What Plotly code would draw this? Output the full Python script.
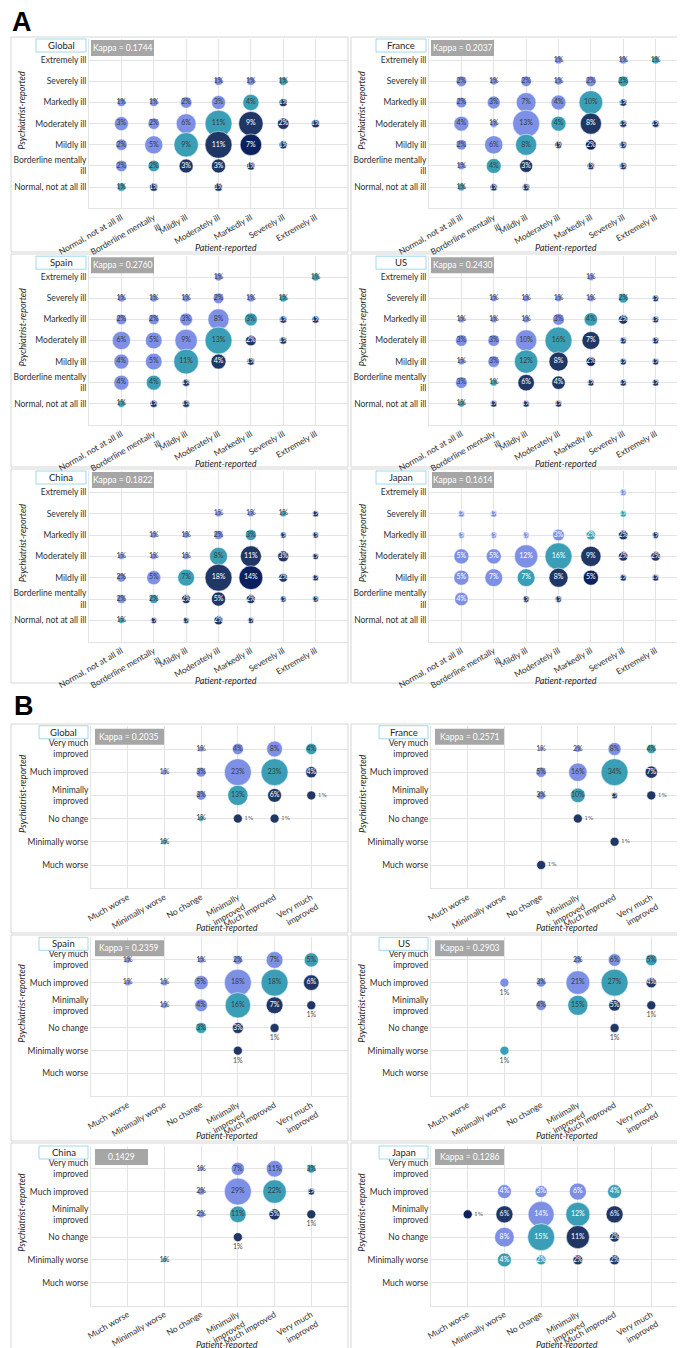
import plotly.graph_objects as go

W, H = 685, 1348

# ---------------- categories ----------------
SEVERITY = ["Normal, not at all ill", "Borderline mentally<br>ill", "Mildly ill",
            "Moderately ill", "Markedly ill", "Severely ill", "Extremely ill"]
IMPROVEMENT = ["Much worse", "Minimally worse", "No change", "Minimally<br>improved",
               "Much improved", "Very much<br>improved"]
COUNTRIES = ["Global", "France", "Spain", "US", "China", "Japan"]

# ---------------- data: rows = psychiatrist-reported (top = most severe / most improved),
# columns = patient-reported (left = least severe / much worse); values in % ----------------
A_GLOBAL = [
    [None, None, None, None, None, None, None],
    [None, None, None, 1, 1, 1, None],
    [1, 1, 2, 3, 4, 1, None],
    [3, 2, 6, 11, 9, 2, 1],
    [2, 5, 9, 11, 7, 1, None],
    [2, 2, 3, 3, 1, None, None],
    [1, 1, None, 1, None, None, None],
]
A_FRANCE = [
    [None, None, None, 1, None, 1, 1],
    [2, 1, 2, 1, 2, 2, None],
    [2, 3, 7, 4, 10, 1, None],
    [4, 1, 13, 4, 8, 1, 1],
    [2, 6, 8, 1, 2, 1, None],
    [1, 4, 3, None, 1, 1, None],
    [1, 1, 1, None, None, None, None],
]
A_SPAIN = [
    [None, None, None, 1, None, None, 1],
    [1, 1, 1, 2, 1, 1, None],
    [2, 2, 3, 8, 3, 1, 1],
    [6, 5, 9, 13, 2, 1, None],
    [4, 5, 11, 4, 1, None, None],
    [4, 4, 1, None, None, None, None],
    [1, 1, 1, None, None, None, None],
]
A_US = [
    [None, None, None, None, 1, None, None],
    [None, 1, 1, 1, 1, 2, 1],
    [1, 1, 1, 3, 4, 2, 1],
    [3, 3, 10, 16, 7, 1, 1],
    [1, 3, 12, 8, 2, 1, 1],
    [3, 1, 6, 4, 1, 1, 1],
    [1, 1, 1, 1, None, None, None],
]
A_CHINA = [
    [None, None, None, None, None, None, None],
    [None, None, None, 1, 1, 1, 1],
    [None, 1, 1, 2, 3, 1, 1],
    [1, 1, 1, 8, 11, 3, 1],
    [2, 5, 7, 18, 14, 2, 1],
    [2, 2, 2, 5, 2, 1, 1],
    [1, 1, 1, 2, 1, None, None],
]
A_JAPAN = [
    [None, None, None, None, None, 1, None],
    [1, 1, None, None, None, 1, None],
    [1, 1, 1, 3, 2, 2, 1],
    [5, 5, 12, 16, 9, 2, 2],
    [5, 7, 7, 8, 5, 1, 1],
    [4, None, 1, 1, None, None, None],
    [None, None, None, None, None, None, None],
]

B_GLOBAL = [
    [None, None, 1, 4, 8, 4],
    [None, 1, 3, 23, 23, 4],
    [None, None, 3, 13, 6, 1],
    [None, None, 1, 1, 1, None],
    [None, 1, None, None, None, None],
    [None, None, None, None, None, None],
]
B_FRANCE = [
    [None, None, 1, 2, 8, 4],
    [None, None, 5, 16, 34, 7],
    [None, None, 3, 10, 2, 1],
    [None, None, None, 1, None, None],
    [None, None, None, None, 1, None],
    [None, None, 1, None, None, None],
]
B_SPAIN = [
    [1, None, 1, 2, 7, 5],
    [1, 1, 5, 18, 18, 6],
    [None, 1, 4, 16, 7, 1],
    [None, None, 3, 3, 1, None],
    [None, None, None, 1, None, None],
    [None, None, None, None, None, None],
]
B_US = [
    [None, None, None, 2, 6, 5],
    [None, 1, 3, 21, 27, 4],
    [None, None, 4, 15, 5, 1],
    [None, None, None, None, 1, None],
    [None, 1, None, None, None, None],
    [None, None, None, None, None, None],
]
B_CHINA = [
    [None, None, 1, 7, 11, 3],
    [None, None, 2, 29, 22, 2],
    [None, None, 2, 11, 5, 1],
    [None, None, None, 1, None, None],
    [None, 1, None, None, None, None],
    [None, None, None, None, None, None],
]
B_JAPAN = [
    [None, None, None, None, None, None],
    [None, 4, 3, 6, 4, None],
    [1, 6, 14, 12, 6, None],
    [None, 8, 15, 11, 2, None],
    [None, 4, 2, 2, 2, None],
    [None, None, None, None, None, None],
]

KAPPA_A = ["Kappa = 0.1744", "Kappa = 0.2037", "Kappa = 0.2760",
           "Kappa = 0.2430", "Kappa = 0.1822", "Kappa = 0.1614"]
KAPPA_B = ["Kappa = 0.2035", "Kappa = 0.2571", "Kappa = 0.2359",
           "Kappa = 0.2903", "0.1429", "Kappa = 0.1286"]

# ---------------- styling ----------------
PERI, TEAL, NAVY, DARK = "#7d90e6", "#3a9fb6", "#203766", "#0c1f5e"
GRID = "#e4e4e4"
FRAME = "#d6d6d6"
TXT = "#2e2e2e"
FONT = "Lato"

# colour overrides (psych level, patient level) -> colour
OVERRIDES = {
    ("A", "Global"): {(3, 5): DARK},
    ("A", "France"): {(3, 5): DARK},
    ("A", "US"): {(3, 5): DARK},
    ("A", "China"): {(3, 5): DARK},
    ("A", "Japan"): {(3, 5): DARK},
    ("B", "Japan"): {(4, 1): DARK, (4, 2): NAVY, (2, 3): TEAL},
}
# small dots with the label drawn outside
OUTSIDE = {
    ("B", "Global"): ("right", [(4, 6), (3, 4), (3, 5)]),
    ("B", "France"): ("right", [(4, 6), (3, 4), (2, 5), (1, 3)]),
    ("B", "Spain"): ("below", [(4, 6), (3, 5), (2, 4)]),
    ("B", "US"): ("below", [(5, 2), (4, 6), (3, 5), (2, 2)]),
    ("B", "China"): ("below", [(4, 6), (3, 4)]),
    ("B", "Japan"): ("right", [(4, 1)]),
}
WHITE_TEXT = {("A", "Japan"), ("B", "Japan")}

A_ROWS = [(31, 200.3), (248.2, 416.8), (463, 633.7)]
B_ROWS = [(717.8, 880.2), (929.3, 1088), (1138, 1297.5)]
A_FRAMES = [(29, 244), (246, 459), (461, 675)]
B_FRAMES = [(716, 925), (927, 1133), (1135, 1345)]
MAXD = 27


def fx(p):
    return p / W


def fy(p):
    return 1 - p / H


PANELS = []
for sec, mats, kap in (("A", [A_GLOBAL, A_FRANCE, A_SPAIN, A_US, A_CHINA, A_JAPAN], KAPPA_A),
                       ("B", [B_GLOBAL, B_FRANCE, B_SPAIN, B_US, B_CHINA, B_JAPAN], KAPPA_B)):
    for i, (name, mat, k) in enumerate(zip(COUNTRIES, mats, kap)):
        PANELS.append((sec, i // 2, i % 2, name, k, mat))

fig = go.Figure()
layout = dict(width=W, height=H, margin=dict(l=0, r=0, t=0, b=0),
              paper_bgcolor="white", plot_bgcolor="white", showlegend=False,
              font=dict(family=FONT, color=TXT))
shapes, annots = [], []

for idx, (sec, row, col, name, kappa, mat) in enumerate(PANELS, start=1):
    n = len(mat)
    cats = SEVERITY if sec == "A" else IMPROVEMENT
    top, bot = (A_ROWS if sec == "A" else B_ROWS)[row]
    ftop, fbot = (A_FRAMES if sec == "A" else B_FRAMES)[row]
    x0 = (81 if sec == "A" else 83) + 340 * col
    x1 = 340 + 340 * col
    key = (sec, name)
    over = OVERRIDES.get(key, {})
    out_side, out_cells = OUTSIDE.get(key, (None, []))
    vmax = max(v for r in mat for v in r if v is not None)
    sizeref = 2.0 * vmax / (MAXD ** 2)

    xs, ys, vs, cs, tcs, txt = [], [], [], [], [], []
    oxs, oys, ovs, ocs = [], [], [], []
    for ri, r in enumerate(mat):
        psy = n - ri
        for ci, v in enumerate(r):
            if v is None:
                continue
            pat = ci + 1
            if (psy, pat) in over:
                c = over[(psy, pat)]
            elif psy > pat:
                c = PERI
            elif psy == pat:
                c = TEAL
            else:
                c = NAVY
            if (psy, pat) in out_cells:
                oxs.append(pat); oys.append(psy); ovs.append(v); ocs.append(c)
            else:
                xs.append(pat); ys.append(psy); vs.append(v); cs.append(c)
                txt.append(f"{v}%")
                tcs.append("white" if (c in (NAVY, DARK) or key in WHITE_TEXT) else "#3a3a3a")

    xa, ya = f"x{idx}", f"y{idx}"
    fig.add_trace(go.Scatter(
        x=xs, y=ys, mode="markers+text", text=txt, textposition="middle center",
        textfont=dict(size=7, color=tcs, family=FONT),
        marker=dict(size=vs, sizemode="area", sizeref=sizeref, color=cs, opacity=1,
                    line=dict(color="rgba(255,255,255,0.7)", width=0.8)),
        xaxis=xa, yaxis=ya, hoverinfo="skip", cliponaxis=False))
    if oxs:
        fig.add_trace(go.Scatter(
            x=oxs, y=oys, mode="markers+text", text=[f"{v}%" for v in ovs],
            textposition="middle right" if out_side == "right" else "bottom center",
            textfont=dict(size=5.5 if out_side == "right" else 7, color="#505050",
                          family="DejaVu Serif" if out_side == "right" else FONT),
            marker=dict(size=ovs, sizemode="area", sizeref=sizeref, color=ocs, sizemin=4.5,
                        opacity=1, line=dict(color="rgba(255,255,255,0.7)", width=0.8)),
            xaxis=xa, yaxis=ya, hoverinfo="skip", cliponaxis=False))

    axsuffix = "" if idx == 1 else str(idx)
    layout["xaxis" + axsuffix] = dict(
        domain=[fx(x0), fx(x1)], range=[0, n + 1],
        tickvals=list(range(1, n + 1)), ticktext=cats, tickangle=-30,
        tickfont=dict(size=8.5, color=TXT, family=FONT),
        showgrid=True, gridcolor=GRID, gridwidth=1, zeroline=False,
        showline=True, linecolor=GRID, linewidth=1, ticks="", anchor=ya,
        fixedrange=True, automargin=False)
    layout["yaxis" + axsuffix] = dict(
        domain=[fy(bot), fy(top)], range=[0, n + 1],
        tickvals=list(range(1, n + 1)), ticktext=cats,
        tickfont=dict(size=8.5, color=TXT, family=FONT),
        showgrid=True, gridcolor=GRID, gridwidth=1, zeroline=False,
        showline=True, linecolor=GRID, linewidth=1, ticks="", anchor=xa,
        fixedrange=True, automargin=False)

    # chart frame
    shapes.append(dict(type="rect", xref="paper", yref="paper",
                       x0=fx(3 if col == 0 else 343), x1=fx(340 if col == 0 else 683),
                       y0=fy(fbot), y1=fy(ftop), line=dict(color=FRAME, width=1), layer="below"))
    # country title box
    tb = (28, 78) if sec == "A" else (31, 80)
    shapes.append(dict(type="rect", xref="paper", yref="paper",
                       x0=fx(tb[0] + 340 * col), x1=fx(tb[1] + 340 * col),
                       y0=fy(top + 13), y1=fy(top), fillcolor="white",
                       line=dict(color="#9fd8ee", width=1)))
    annots.append(dict(xref="paper", yref="paper", x=fx((tb[0] + tb[1]) / 2 + 340 * col),
                       y=fy(top + 6.5), text=name, showarrow=False,
                       font=dict(size=9.5, color="#262626", family=FONT),
                       xanchor="center", yanchor="middle"))
    # kappa box
    if sec == "A":
        kb = (83 + (1 if row == 2 else 0), 146, top + 1, top + 17)
    else:
        kb = (87, 156 if kappa.startswith("Kappa") else 140, top + 3, top + 19)
    shapes.append(dict(type="rect", xref="paper", yref="paper",
                       x0=fx(kb[0] + 340 * col), x1=fx(kb[1] + 340 * col),
                       y0=fy(kb[3]), y1=fy(kb[2]), fillcolor="#a6a6a6",
                       line=dict(color="#a6a6a6", width=0)))
    annots.append(dict(xref="paper", yref="paper", x=fx((kb[0] + kb[1]) / 2 + 340 * col),
                       y=fy((kb[2] + kb[3]) / 2), text=kappa, showarrow=False,
                       font=dict(size=8.5, color="white", family=FONT),
                       xanchor="center", yanchor="middle"))
    # axis titles
    annots.append(dict(xref="paper", yref="paper", x=fx(14 + 340 * col),
                       y=fy((top + bot) / 2 - 13), text="<i>Psychiatrist-reported</i>",
                       textangle=-90, showarrow=False,
                       font=dict(size=9, color="#262626", family=FONT),
                       xanchor="center", yanchor="middle"))
    annots.append(dict(xref="paper", yref="paper", x=fx((x0 + x1) / 2 + 7),
                       y=fy(bot + 39), text="<i>Patient-reported</i>", showarrow=False,
                       font=dict(size=9, color="#262626", family=FONT),
                       xanchor="center", yanchor="middle"))

# section letters
annots.append(dict(xref="paper", yref="paper", x=fx(2), y=fy(14), text="<b>A</b>",
                   showarrow=False, xanchor="left", yanchor="middle",
                   font=dict(size=27, color="black", family="Liberation Sans")))
annots.append(dict(xref="paper", yref="paper", x=fx(4), y=fy(698), text="<b>B</b>",
                   showarrow=False, xanchor="left", yanchor="middle",
                   font=dict(size=27, color="black", family="Liberation Sans")))

layout["shapes"] = shapes
layout["annotations"] = annots
fig.update_layout(**layout)
fig.write_html("out.html")
